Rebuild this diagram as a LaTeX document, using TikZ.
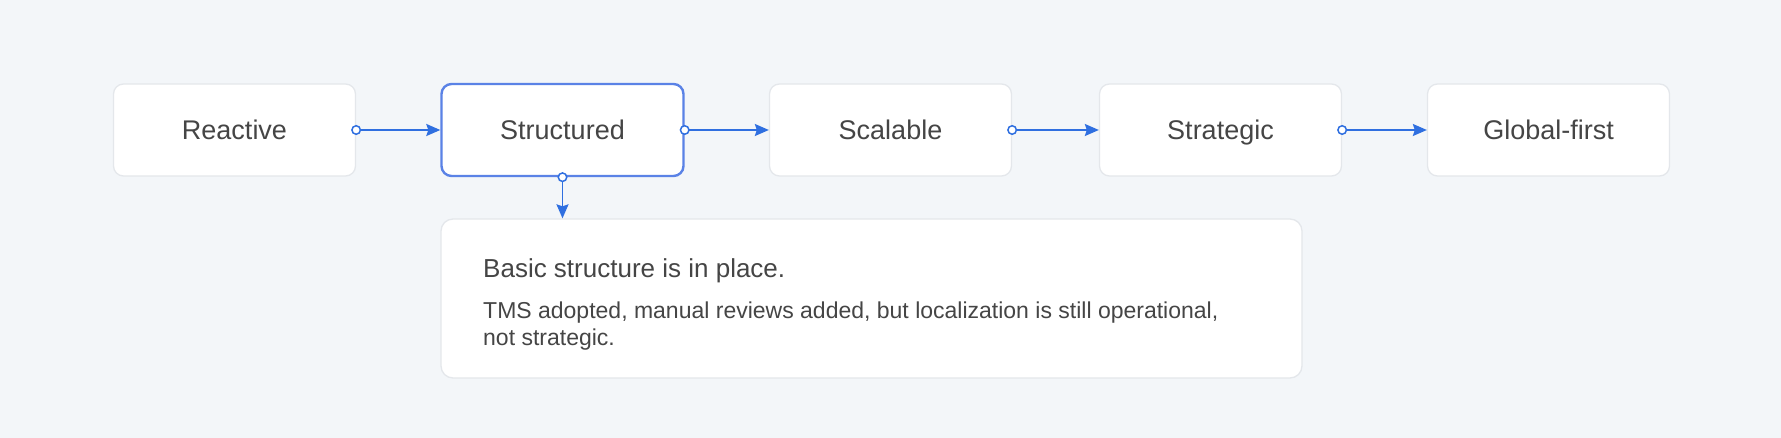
\documentclass[tikz,border=0pt]{standalone}
\usepackage{fontspec}
\setmainfont{Liberation Sans}
\usetikzlibrary{arrows.meta}
\definecolor{bgc}{HTML}{F3F6F9}
\definecolor{bordc}{HTML}{E4E7EB}
\definecolor{bluec}{HTML}{2F6FE0}
\definecolor{selc}{HTML}{5A82E6}
\definecolor{txtc}{HTML}{454545}
\tikzset{
  stagebox/.style={draw=bordc, line width=1.3pt, fill=white, rounded corners=10pt,
    minimum width=242pt, minimum height=92pt, inner sep=0pt,
    text=txtc, font=\fontsize{27}{32}\selectfont, text height=19.5pt, text depth=0pt},
  selbox/.style={stagebox, draw=selc, line width=2.4pt},
  detailbox/.style={draw=bordc, line width=1.3pt, fill=white, rounded corners=12pt,
    minimum width=861pt, minimum height=159pt, inner sep=0pt},
  conn/.style={draw=bluec, line width=1.8pt, -{Stealth[length=14pt,width=12pt,inset=2pt]}},
  dotc/.style={circle, draw=bluec, fill=white, line width=1.5pt, minimum size=8.5pt, inner sep=0pt},
  titletxt/.style={anchor=base west, inner sep=0pt, text=txtc, font=\fontsize{26}{31}\selectfont},
  bodytxt/.style={anchor=base west, inner sep=0pt, text=txtc, align=left, font=\fontsize{23}{27.5}\selectfont},
}
\begin{document}
\begin{tikzpicture}[x=1pt,y=-1pt]
\fill[bgc] (0,0) rectangle (1781,438);
\useasboundingbox (0,0) rectangle (1781,438);
\node[stagebox] (r) at (234.5,130) {Reactive};
\node[selbox] (s1) at (562.5,130) {Structured};
\node[stagebox] (s2) at (890.5,130) {Scalable};
\node[stagebox] (s3) at (1220.5,130) {Strategic};
\node[stagebox] (g) at (1548.5,130) {Global-first};
\node[detailbox] (d) at (871.5,298.5) {};
\node[titletxt] (dt) at (483,278) {Basic structure is in place.};
\node[bodytxt] (db) at (483,345.5) {TMS adopted, manual reviews added, but localization is still operational,\\not strategic.};
\draw[conn] (r.east) -- (s1.west);
\draw[conn] (s1.east) -- (s2.west);
\draw[conn] (s2.east) -- (s3.west);
\draw[conn] (s3.east) -- (g.west);
\draw[conn] (s1.south) -- (s1.south |- d.north);
\node[dotc] (c1) at (r.east) {};
\node[dotc] (c2) at (s1.east) {};
\node[dotc] (c3) at (s2.east) {};
\node[dotc] (c4) at (s3.east) {};
\node[dotc] (c5) at (s1.south) {};
\end{tikzpicture}
\end{document}
